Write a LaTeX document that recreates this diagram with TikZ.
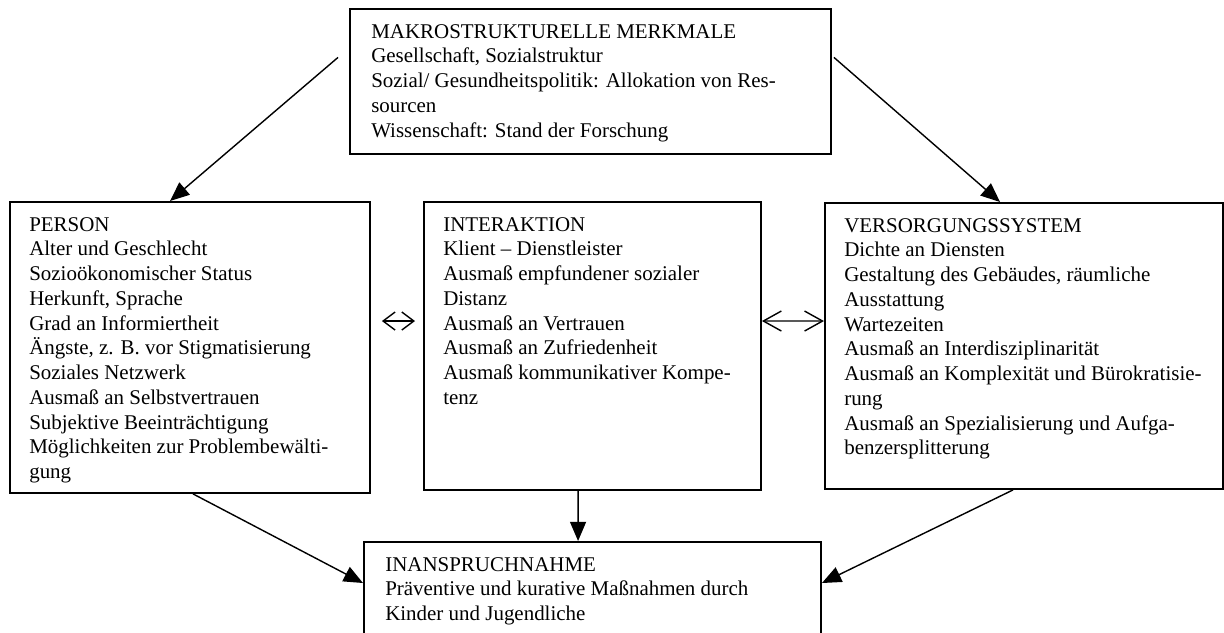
\documentclass[tikz,border=0pt]{standalone}
\usepackage{fontspec}
\setmainfont{Liberation Serif}
\usetikzlibrary{arrows.meta}
\begin{document}
\begin{tikzpicture}[x=0.025cm, y=-0.025cm,
  block/.style={rectangle, draw, line width=1.3pt, anchor=north west, inner sep=0pt},
  txt/.style={anchor=north west, align=left, inner sep=0pt, font=\fontsize{14.9}{17.6}\selectfont},
  pfeil/.style={-{Triangle[length=0.48cm, width=0.4cm]}, line width=1pt},
  doppel/.style={{Straight Barb[length=0.45cm, width=0.5cm]}-{Straight Barb[length=0.45cm, width=0.5cm]}, line width=1pt}]
  \clip (0, 0) rectangle (1224, 632);
  % Nodes
  \node (makro) [block, minimum width=12.025cm, minimum height=3.625cm] at (349, 8) {};
  \node (person) [block, minimum width=9cm, minimum height=7.275cm] at (9, 201) {};
  \node (inter) [block, minimum width=8.425cm, minimum height=7.2cm] at (423, 201) {};
  \node (versorg) [block, minimum width=9.95cm, minimum height=7.15cm] at (824, 202) {};
  \node (inansp) [block, minimum width=11.425cm, minimum height=3cm] at (363, 541) {};
  % Texts
  \node (makrotxt) [txt] at ([xshift=0.55cm, yshift=-0.4cm]makro.north west) {MAKROSTRUKTURELLE MERKMALE\\
    Gesellschaft, Sozialstruktur\\
    Sozial/ Gesundheitspolitik: Allokation von Res-\\
    sourcen\\
    Wissenschaft: Stand der Forschung};
  \node (persontxt) [txt] at ([xshift=0.5cm, yshift=-0.4cm]person.north west) {PERSON\\
    Alter und Geschlecht\\
    Sozioökonomischer Status\\
    Herkunft, Sprache\\
    Grad an Informiertheit\\
    Ängste, z. B. vor Stigmatisierung\\
    Soziales Netzwerk\\
    Ausmaß an Selbstvertrauen\\
    Subjektive Beeinträchtigung\\
    Möglichkeiten zur Problembewälti-\\
    gung};
  \node (intertxt) [txt] at ([xshift=0.5cm, yshift=-0.4cm]inter.north west) {INTERAKTION\\
    Klient – Dienstleister\\
    Ausmaß empfundener sozialer\\
    Distanz\\
    Ausmaß an Vertrauen\\
    Ausmaß an Zufriedenheit\\
    Ausmaß kommunikativer Kompe-\\
    tenz};
  \node (versorgtxt) [txt] at ([xshift=0.5cm, yshift=-0.4cm]versorg.north west) {VERSORGUNGSSYSTEM\\
    Dichte an Diensten\\
    Gestaltung des Gebäudes, räumliche\\
    Ausstattung\\
    Wartezeiten\\
    Ausmaß an Interdisziplinarität\\
    Ausmaß an Komplexität und Bürokratisie-\\
    rung\\
    Ausmaß an Spezialisierung und Aufga-\\
    benzersplitterung};
  \node (inansptxt) [txt] at ([xshift=0.55cm, yshift=-0.4cm]inansp.north west) {INANSPRUCHNAHME\\
    Präventive und kurative Maßnahmen durch\\
    Kinder und Jugendliche};
  % Arrows
  \draw[pfeil] ([xshift=-0.275cm, yshift=0.6cm]makro.west) -- ([xshift=4.025cm]person.north west);
  \draw[pfeil] ([xshift=0.05cm, yshift=0.6cm]makro.east) -- ([xshift=4.4cm]versorg.north west);
  \draw[pfeil] ([xshift=4.6cm]person.south west) -- ([yshift=-1.05cm]inansp.north west);
  \draw[pfeil] ([xshift=-0.36cm]inter.south) -- ([xshift=-0.36cm]inansp.north);
  \draw[pfeil] ([xshift=4.725cm]versorg.south west) -- ([yshift=-1.05cm]inansp.north east);
  \draw[doppel, {Straight Barb[length=0.3cm, width=0.45cm]}-{Straight Barb[length=0.3cm, width=0.45cm]}] ([xshift=0.275cm, yshift=-3cm]person.north east) -- ([xshift=-0.2cm, yshift=-3cm]inter.north west);
  \draw[doppel] ([yshift=-3cm]inter.north east) -- ([yshift=-2.975cm]versorg.north west);
\end{tikzpicture}
\end{document}
